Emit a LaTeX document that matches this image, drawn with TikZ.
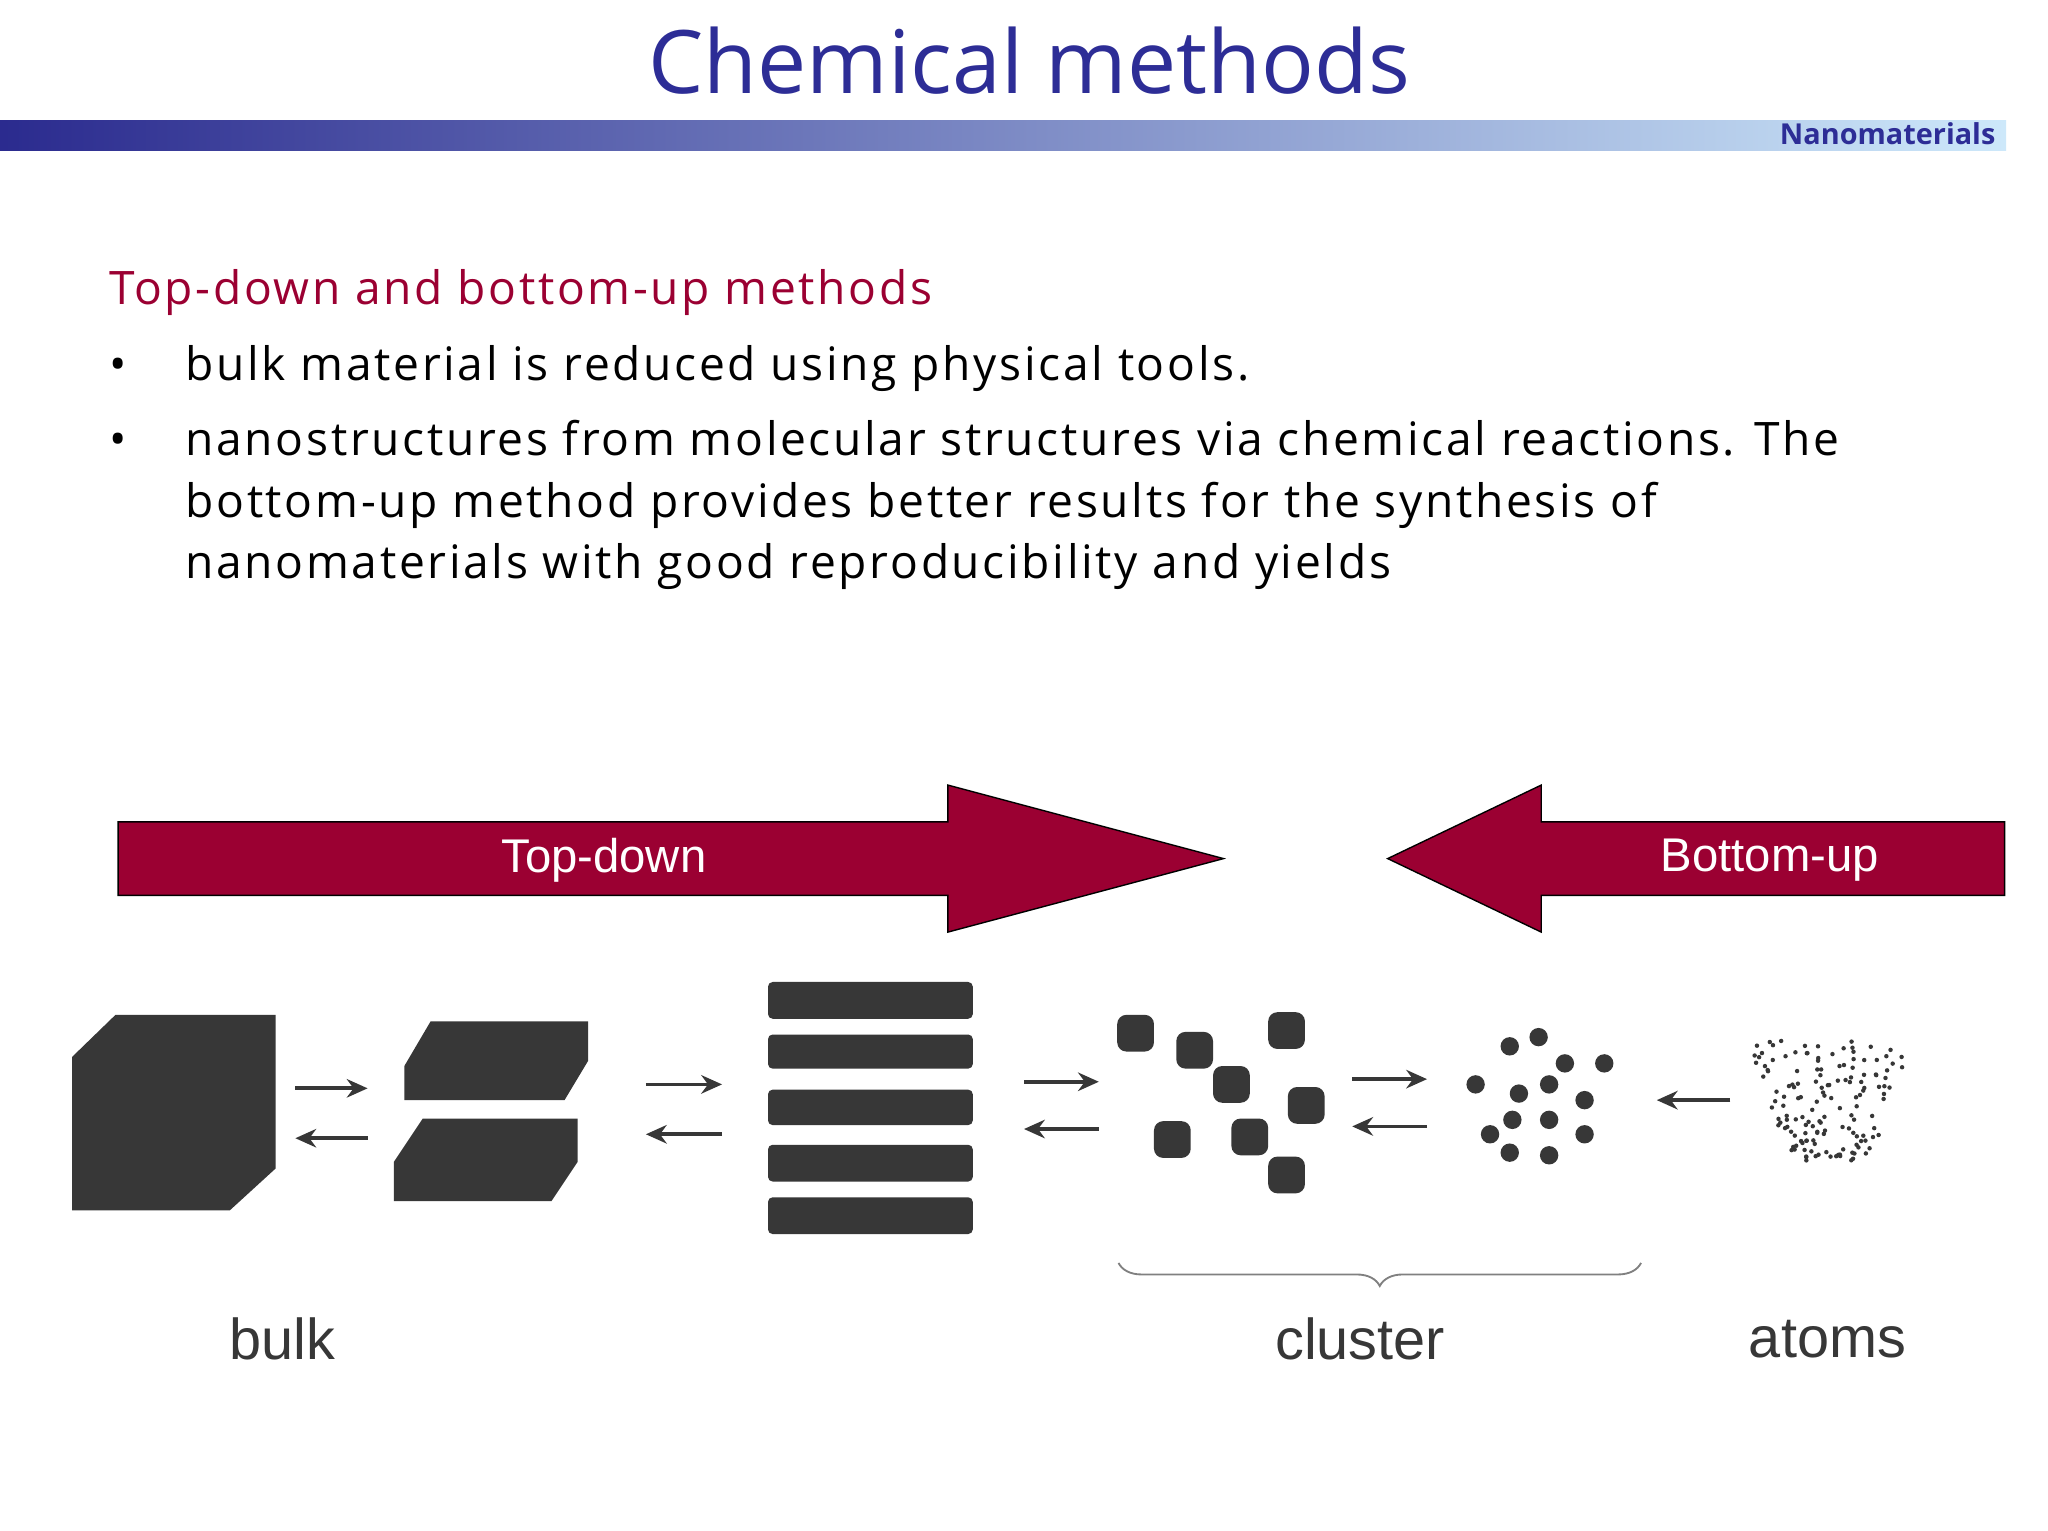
\documentclass[tikz,border=0pt]{standalone}
\usepackage{fontspec}
\setmainfont{Open Sans}
\newfontfamily\arialf{Liberation Sans}
\newfontfamily\bodyf[LetterSpace=5.8]{Open Sans}
\usetikzlibrary{decorations.pathreplacing,arrows.meta}
\definecolor{ttl}{RGB}{45,45,150}
\definecolor{dred}{RGB}{155,0,50}
\definecolor{blk}{RGB}{55,55,55}
\tikzset{
  bigarrow/.style={fill=dred,draw=black,line width=0.6pt},
  arrtxt/.style={text=white,font=\arialf\fontsize{20.5}{24}\selectfont},
  lbl/.style={text=blk,font=\arialf\fontsize{25}{30}\selectfont},
  body/.style={anchor=base west,font=\bodyf\fontsize{20}{26}\selectfont,inner sep=0},
  smallarr/.style={-{Stealth[length=9pt,width=8pt]},line width=1.6pt,draw=blk},
  shapefill/.style={fill=blk},
}
\begin{document}
\begin{tikzpicture}[x=0.02cm,y=-0.02cm]
\useasboundingbox (0,0) rectangle (1560,1166);
\fill[white] (0,0) rectangle (1560,1166);
\node[text=ttl,font=\fontsize{38}{44}\selectfont] (title) at (784,46) {Chemical methods};
\shade[left color=ttl!95!black,right color={rgb,255:red,205;green,232;blue,250}] (0,92) rectangle (1528,115);
\node[anchor=east,text=ttl,font=\bfseries\fontsize{12.5}{14}\selectfont,inner sep=1pt] (nano) at (1522,102) {Nanomaterials};
\node[body,text=dred] (h) at (83,232) {Top-down and bottom-up methods};
\node[body] (b1) at (83,290) {•};
\node[body] (t1) at (141,290) {bulk material is reduced using physical tools.};
\node[body] (b2) at (83,347) {•};
\node[body] (t2) at (141,347) {nanostructures from molecular structures via chemical reactions. The};
\node[body] (t3) at (141,394) {bottom-up method provides better results for the synthesis of};
\node[body] (t4) at (141,441) {nanomaterials with good reproducibility and yields};
% big arrows
\draw[bigarrow] (90,626) -- (722,626) -- (722,598) -- (932,654) -- (722,710) -- (722,682) -- (90,682) -- cycle;
\node[arrtxt] (td) at (460,655) {Top-down};
\draw[bigarrow] (1527,626) -- (1174,626) -- (1174,598) -- (1057,654) -- (1174,710) -- (1174,682) -- (1527,682) -- cycle;
\node[arrtxt] (bu) at (1348,655) {Bottom-up};
% bulk cube
\fill[shapefill] (55,805) -- (88,773) -- (210,773) -- (210,890) -- (175,922) -- (55,922) -- cycle;
% slabs
\fill[shapefill] (308,812) -- (328,778) -- (448,778) -- (448,808) -- (430,838) -- (308,838) -- cycle;
\fill[shapefill] (300,885) -- (322,852) -- (440,852) -- (440,885) -- (420,915) -- (300,915) -- cycle;
% bars
\foreach \y/\h in {748/28,788/26,830/27,872/28,912/28}
  \fill[shapefill,rounded corners=2pt] (585,\y) rectangle (741,\y+\h);
% small arrows
\foreach \a/\b/\yr/\yl in {225/280/829/867, 492/550/826/864, 780/837/824/860, 1030/1087/822/858}{
  \draw[smallarr] (\a,\yr) -- (\b,\yr);
  \draw[smallarr] (\b,\yl) -- (\a,\yl);
}
\draw[smallarr] (1318,838) -- (1262,838);
% clusters
\foreach \x/\y in {865/787,910/800,980/785,938/826,995/842,893/868,952/866,980/895}
  \fill[shapefill,rounded corners=4pt] (\x-14,\y-14) rectangle (\x+14,\y+14);
% dots
\foreach \x/\y in {1150/797,1172/790,1192/810,1222/810,1124/826,1157/833,1180/826,1207/838,1135/864,1152/853,1180/853,1207/864,1150/878,1180/880}
  \fill[shapefill] (\x,\y) circle (7);
% atoms
\pgfmathsetseed{7}
\foreach \i in {1,...,150}{
  \pgfmathsetmacro{\u}{rnd}\pgfmathsetmacro{\v}{rnd}
  \pgfmathsetmacro{\px}{1394+(\u-0.5)*116*(1-0.55*\v*\v)}
  \pgfmathsetmacro{\py}{792+\v*92}
  \fill[blk] (\px,\py) circle (1.7);
}
% brace
\draw[decorate,decoration={brace,mirror,amplitude=10pt},draw=gray,line width=0.8pt] (852,962) -- (1250,962);
\node[lbl] (bulk) at (215,1020) {bulk};
\node[lbl] (cluster) at (1036,1020) {cluster};
\node[lbl] (atoms) at (1392,1020) {atoms};
\end{tikzpicture}
\end{document}
